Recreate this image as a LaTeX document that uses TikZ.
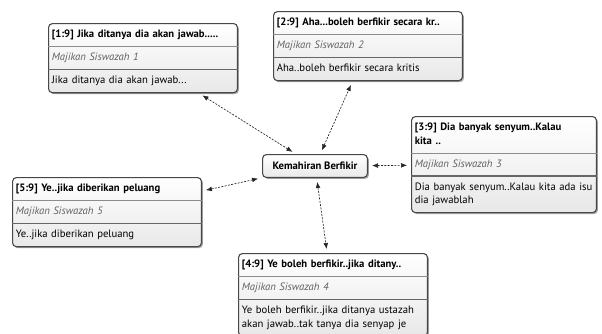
\documentclass[tikz,border=0pt]{standalone}
\usepackage{fontspec}
\setmainfont{PT Sans}
\usetikzlibrary{shapes.multipart,shadows,arrows.meta}

\newcommand\subjudul[1]{{\itshape\color{black!62}#1}}
\newcommand\hurufkotak{\fontsize{8}{10.1}\selectfont}

\tikzset{
  bayang/.style={drop shadow={shadow xshift=1.1pt,shadow yshift=-1.1pt,opacity=0.35,fill=black}},
  notabox/.style={rectangle split, rectangle split parts=3, rectangle split draw splits=false,
    anchor=north west, rounded corners=3pt, draw=black!72, line width=0.8pt,
    top color=white, bottom color=black!9, bayang, text width=136.7pt, align=left,
    inner xsep=2.5pt, inner ysep=3.2pt, font=\hurufkotak},
  pusat/.style={rounded corners=3pt, draw=black!72, line width=0.8pt,
    top color=white, bottom color=black!9, bayang, minimum width=78.7pt,
    minimum height=17.2pt, inner sep=2pt, font=\hurufkotak\bfseries},
  pautan/.style={black!85, line width=0.5pt, dash pattern=on 1.5pt off 1pt,
    {Latex[length=4.5pt,width=3.6pt]}-{Latex[length=4.5pt,width=3.6pt]},
    shorten <=3pt, shorten >=3pt},
  garis1/.style={black!45, line width=0.6pt},
  garis2/.style={black!60, line width=1pt}
}

\begin{document}
\begin{tikzpicture}[x=0.75pt,y=0.75pt,yscale=-1,xscale=1]
\useasboundingbox (0,0) rectangle (602,333);

% Centre node
\node[pusat] (inti) at (315,166) {Kemahiran Berfikir};

% Answer boxes
\node[notabox] (soal1) at (48,23) {\strut\bfseries [1:9] Jika ditanya dia akan jawab.....
  \nodepart{two}\strut\subjudul{Majikan Siswazah 1}
  \nodepart{three}\strut Jika ditanya dia akan jawab...};
\node[notabox] (soal2) at (273,11) {\strut\bfseries [2:9] Aha...boleh berfikir secara kr..
  \nodepart{two}\strut\subjudul{Majikan Siswazah 2}
  \nodepart{three}\strut Aha..boleh berfikir secara kritis};
\node[notabox, text width=133.7pt] (soal3) at (411,116) {\strut\bfseries [3:9] Dia banyak senyum..Kalau\\\strut kita ..
  \nodepart{two}\strut\subjudul{Majikan Siswazah 3}
  \nodepart{three}\strut\mbox{Dia banyak senyum..Kalau kita ada isu}\\\strut dia jawablah};
\node[notabox] (soal4) at (238,253) {\strut\bfseries [4:9] Ye boleh berfikir..jika ditany..
  \nodepart{two}\strut\subjudul{Majikan Siswazah 4}
  \nodepart{three}\strut\mbox{Ye boleh berfikir..jika ditanya ustazah}\\\strut akan jawab..tak tanya dia senyap je};
\node[notabox] (soal5) at (12,177) {\strut\bfseries [5:9] Ye..jika diberikan peluang
  \nodepart{two}\strut\subjudul{Majikan Siswazah 5}
  \nodepart{three}\strut Ye..jika diberikan peluang};

% Separators
\foreach \k in {soal1,soal2,soal3,soal4,soal5}{
  \draw[garis1] (\k.one split west) -- (\k.one split east);
  \draw[garis2] (\k.two split west) -- (\k.two split east);
}

% Links
\draw[pautan] (inti) -- (soal1);
\draw[pautan] (inti) -- (soal2);
\draw[pautan] (inti) -- (soal3);
\draw[pautan] (inti) -- (soal4);
\draw[pautan] (inti) -- (soal5);

\end{tikzpicture}
\end{document}
